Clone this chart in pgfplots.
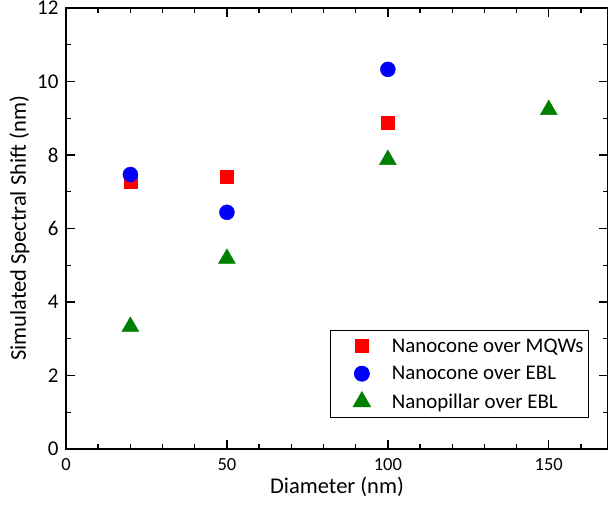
\documentclass[border=0pt]{standalone}
\usepackage{fontspec}
\setmainfont{Carlito}
\usepackage{pgfplots}
\pgfplotsset{compat=1.18}
\definecolor{mygreen}{RGB}{0,128,0}
\begin{document}
\begin{tikzpicture}
\begin{axis}[
 scale only axis, width=542pt, height=441pt,
 xmin=0, xmax=168.4, ymin=0, ymax=12,
 xtick={0,50,100,150}, minor xtick={10,20,30,40,60,70,80,90,110,120,130,140,160},
 ytick={0,2,...,12}, minor ytick={1,3,...,11},
 tick align=inside, major tick length=9pt, minor tick length=5pt,
 axis line style={line width=1.6pt},
 every tick/.style={line width=1.4pt, black},
 /pgf/number format/assume math mode=true,
 xticklabel style={font=\fontsize{18.5}{22}\selectfont, yshift=-6pt},
 yticklabel style={font=\fontsize{21}{25}\selectfont, xshift=-4pt},
 xlabel={Diameter (nm)}, ylabel={Simulated Spectral Shift (nm)},
 xlabel style={font=\fontsize{22.5}{26}\selectfont, at={(axis description cs:0.5,0)}, anchor=north, yshift=-25pt},
 ylabel style={font=\fontsize{22.5}{26}\selectfont, at={(axis description cs:-0.061,0.5)}, anchor=south},
 legend style={at={(0.965,0.070)}, anchor=south east, draw=black, line width=0.9pt,
   font=\fontsize{20.9}{25}\selectfont, row sep=8.5pt, column sep=19pt,
   inner xsep=3pt, inner ysep=6pt},
 legend image code/.code={\path[draw=none] (-28pt,0pt) -- (9pt,0pt); \draw[#1] plot coordinates {(0pt,0pt)};},
 legend cell align=left,
]
\addplot[only marks, mark=square*, mark size=6.5pt, color=red, mark options={fill=red, draw=none}]
 coordinates {(20,7.28) (50,7.42) (100,8.87)};
\addlegendentry{Nanocone over MQWs}
\addplot[only marks, mark=*, mark size=7.5pt, color=blue, mark options={fill=blue, draw=none}]
 coordinates {(20,7.47) (50,6.44) (100,10.33)};
\addlegendentry{Nanocone over EBL}
\addplot[only marks, mark=triangle*, mark size=9.8pt, color=mygreen, mark options={fill=mygreen, draw=none}]
 coordinates {(20,3.33) (50,5.18) (100,7.87) (150,9.23)};
\addlegendentry{Nanopillar over EBL}
\end{axis}
\pgfresetboundingbox
\path (current axis.south west) ++(-66pt,-55pt) coordinate (bl);
\path (current axis.north east) ++(0pt,8pt) coordinate (tr);
\useasboundingbox (bl) rectangle (tr);
\end{tikzpicture}
\end{document}
